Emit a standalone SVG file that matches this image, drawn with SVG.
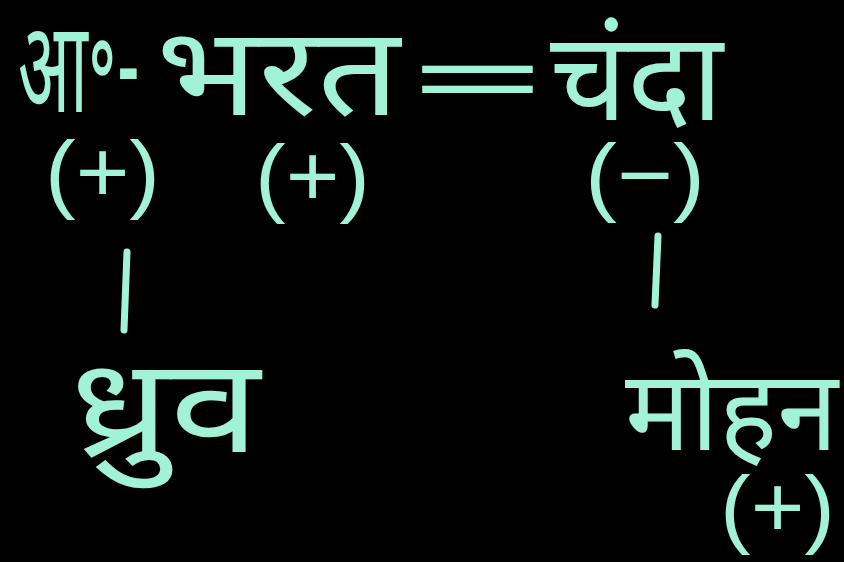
<svg xmlns="http://www.w3.org/2000/svg" width="844" height="562" viewBox="0 0 844 562">
<style>
.t{fill:#a2f2d8;font-family:"Noto Sans Devanagari","Lohit Devanagari","Noto Sans","DejaVu Sans",sans-serif;}
.s{font-family:"Liberation Sans","DejaVu Sans",sans-serif;font-size:88px;}
.c{stroke:#a2f2d8;stroke-width:7;stroke-linecap:round;fill:none;}
</style>
<rect width="844" height="562" fill="#000"/>
<g id="title">
<text class="t" x="18" y="112" font-size="128" textLength="122" lengthAdjust="spacingAndGlyphs">आ॰-</text>
</g>
<g id="bharat">
<text class="t" x="156" y="115" font-size="123" textLength="244" lengthAdjust="spacingAndGlyphs">भरत</text>
<text class="t s" x="255" y="206" textLength="115" lengthAdjust="spacingAndGlyphs">(+)</text>
</g>
<g id="equals">
<text class="t" x="410" y="112" font-size="100" textLength="135" lengthAdjust="spacingAndGlyphs">=</text>
</g>
<g id="chanda">
<text class="t" x="550" y="120" font-size="123" textLength="173" lengthAdjust="spacingAndGlyphs">चंदा</text>
<text class="t s" x="585" y="205" textLength="120" lengthAdjust="spacingAndGlyphs">(−)</text>
</g>
<g id="aa">
<text class="t s" x="45" y="202" textLength="115" lengthAdjust="spacingAndGlyphs">(+)</text>
</g>
<g id="dhruv">
<text class="t" x="70" y="452" font-size="132" textLength="190" lengthAdjust="spacingAndGlyphs">ध्रुव</text>
</g>
<g id="mohan">
<text class="t" x="625" y="450" font-size="112" textLength="213" lengthAdjust="spacingAndGlyphs">मोहन</text>
<text class="t s" x="720" y="537" textLength="115" lengthAdjust="spacingAndGlyphs">(+)</text>
</g>
<g id="connectors">
<line class="c" x1="127" y1="252" x2="124" y2="330"/>
<line class="c" x1="658" y1="236" x2="655" y2="305"/>
</g>
</svg>
